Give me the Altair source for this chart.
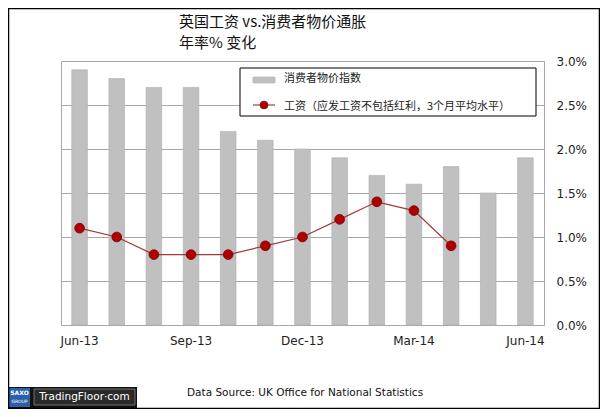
import altair as alt
import pandas as pd

months = ["Jun-13", "Jul-13", "Aug-13", "Sep-13", "Oct-13", "Nov-13", "Dec-13",
          "Jan-14", "Feb-14", "Mar-14", "Apr-14", "May-14", "Jun-14"]
cpi = [2.9, 2.8, 2.7, 2.7, 2.2, 2.1, 2.0, 1.9, 1.7, 1.6, 1.8, 1.5, 1.9]
wage_months = months[:11]
wages = [1.1, 1.0, 0.8, 0.8, 0.8, 0.9, 1.0, 1.2, 1.4, 1.3, 0.9]
tick_months = ["Jun-13", "Sep-13", "Dec-13", "Mar-14", "Jun-14"]

title1 = "英国工资 vs.消费者物价通胀"
title2 = "年率% 变化"
legend1 = "消费者物价指数"
legend2 = "工资（应发工资不包括红利，3个月平均水平）"
source = "Data Source: UK Office for National Statistics"

cpi_df = pd.DataFrame({"month": months, "cpi": cpi})
wage_df = pd.DataFrame({"month": wage_months, "wage": wages})
one = pd.DataFrame({"k": [0]})

CJK = "Noto Sans CJK SC"
LAT = "DejaVu Sans"

x_enc = alt.X("month:N", sort=months,
              scale=alt.Scale(paddingInner=0.58, paddingOuter=0.29),
              axis=alt.Axis(values=tick_months, labelAngle=0, title=None,
                            domain=False, ticks=False, labelPadding=10,
                            labelFontSize=12, labelFont=LAT, labelColor="#222"))
y_scale = alt.Scale(domain=[0, 3.0], nice=False)

bars = alt.Chart(cpi_df).mark_bar(color="#C0C0C0", stroke="#ABABAB", strokeWidth=0.6).encode(
    x=x_enc,
    y=alt.Y("cpi:Q", scale=y_scale,
            axis=alt.Axis(orient="right", values=[0, 0.5, 1.0, 1.5, 2.0, 2.5, 3.0],
                          labelExpr="format(datum.value, '.1f') + '%'",
                          title=None, domain=False, ticks=False, grid=True,
                          gridColor="#A8A8A8", gridWidth=1, labelPadding=12,
                          labelFontSize=12, labelFont=LAT, labelColor="#222")),
)

line = alt.Chart(wage_df).mark_line(color="#A33A3A", strokeWidth=1.2).encode(
    x=alt.X("month:N", sort=months),
    y=alt.Y("wage:Q", scale=y_scale),
)
pts = alt.Chart(wage_df).mark_point(filled=True, size=95, color="#B00000",
                                    stroke="#7A0000", strokeWidth=0.8, opacity=1).encode(
    x=alt.X("month:N", sort=months),
    y=alt.Y("wage:Q", scale=y_scale),
)

base1 = alt.Chart(one)

# legend box
leg_box = base1.mark_rect(fill="white", stroke="black", strokeWidth=1).encode(
    x=alt.value(179), x2=alt.value(475), y=alt.value(7), y2=alt.value(55))
leg_sw = base1.mark_rect(fill="#C0C0C0", stroke="#ABABAB", strokeWidth=0.6).encode(
    x=alt.value(192), x2=alt.value(214), y=alt.value(16), y2=alt.value(22))
leg_ln = base1.mark_rule(color="#A33A3A", strokeWidth=1.2).encode(
    x=alt.value(192), x2=alt.value(214), y=alt.value(44))
leg_pt = base1.mark_point(filled=True, size=60, color="#B00000", stroke="#7A0000",
                          strokeWidth=0.8, opacity=1).encode(
    x=alt.value(203), y=alt.value(44))
leg_t1 = base1.mark_text(align="left", baseline="middle", font=CJK, fontSize=11,
                         color="#222").encode(
    x=alt.value(223), y=alt.value(18), text=alt.value(legend1))
leg_t2 = base1.mark_text(align="left", baseline="middle", font=CJK, fontSize=11,
                         color="#222").encode(
    x=alt.value(223), y=alt.value(46), text=alt.value(legend2))

# titles
t1 = base1.mark_text(align="left", baseline="middle", font=CJK, fontSize=15,
                     color="#111").encode(
    x=alt.value(118), y=alt.value(-39), text=alt.value(title1))
t2 = base1.mark_text(align="left", baseline="middle", font=CJK, fontSize=15,
                     color="#111").encode(
    x=alt.value(118), y=alt.value(-18), text=alt.value(title2))

# footer
src = base1.mark_text(align="left", baseline="middle", font=LAT, fontSize=10.5,
                      color="#111").encode(
    x=alt.value(126), y=alt.value(332), text=alt.value(source))

logo_bg = base1.mark_rect(fill="#111").encode(
    x=alt.value(-53), x2=alt.value(76), y=alt.value(326), y2=alt.value(350))
logo_saxo = base1.mark_rect(fill="#2B5FA8").encode(
    x=alt.value(-52), x2=alt.value(-31), y=alt.value(327), y2=alt.value(346))
logo_saxo_t = base1.mark_text(align="center", baseline="middle", font=LAT,
                              fontSize=6, fontWeight="bold", color="white").encode(
    x=alt.value(-41.5), y=alt.value(332), text=alt.value("SAXO"))
logo_grp_t = base1.mark_text(align="center", baseline="middle", font=LAT,
                             fontSize=4.5, color="white").encode(
    x=alt.value(-41.5), y=alt.value(341), text=alt.value("GROUP"))
logo_tf = base1.mark_rect(fill="#2A2A2A", stroke="#888", strokeWidth=0.8).encode(
    x=alt.value(-27), x2=alt.value(74), y=alt.value(328), y2=alt.value(344))
logo_tf_t = base1.mark_text(align="center", baseline="middle", font=LAT,
                            fontSize=10.5, color="white").encode(
    x=alt.value(23.5), y=alt.value(336), text=alt.value("TradingFloor·com"))

frame = base1.mark_rect(fill=None, stroke="black", strokeWidth=1.5, filled=False).encode(
    x=alt.value(-52.5), x2=alt.value(538.5), y=alt.value(-52.5), y2=alt.value(347.5))

chart = alt.layer(
    bars, line, pts,
    leg_box, leg_sw, leg_ln, leg_pt, leg_t1, leg_t2,
    t1, t2, src,
    logo_bg, logo_saxo, logo_saxo_t, logo_grp_t, logo_tf, logo_tf_t,
    frame,
).properties(
    width=483, height=264,
    autosize=alt.AutoSizeParams(type="none"),
    padding={"left": 53, "top": 53, "right": 56, "bottom": 84},
    background="white",
).configure_view(stroke="#A8A8A8", strokeWidth=1)

chart.save("out.html", embed_options={"renderer": "svg", "actions": False})
